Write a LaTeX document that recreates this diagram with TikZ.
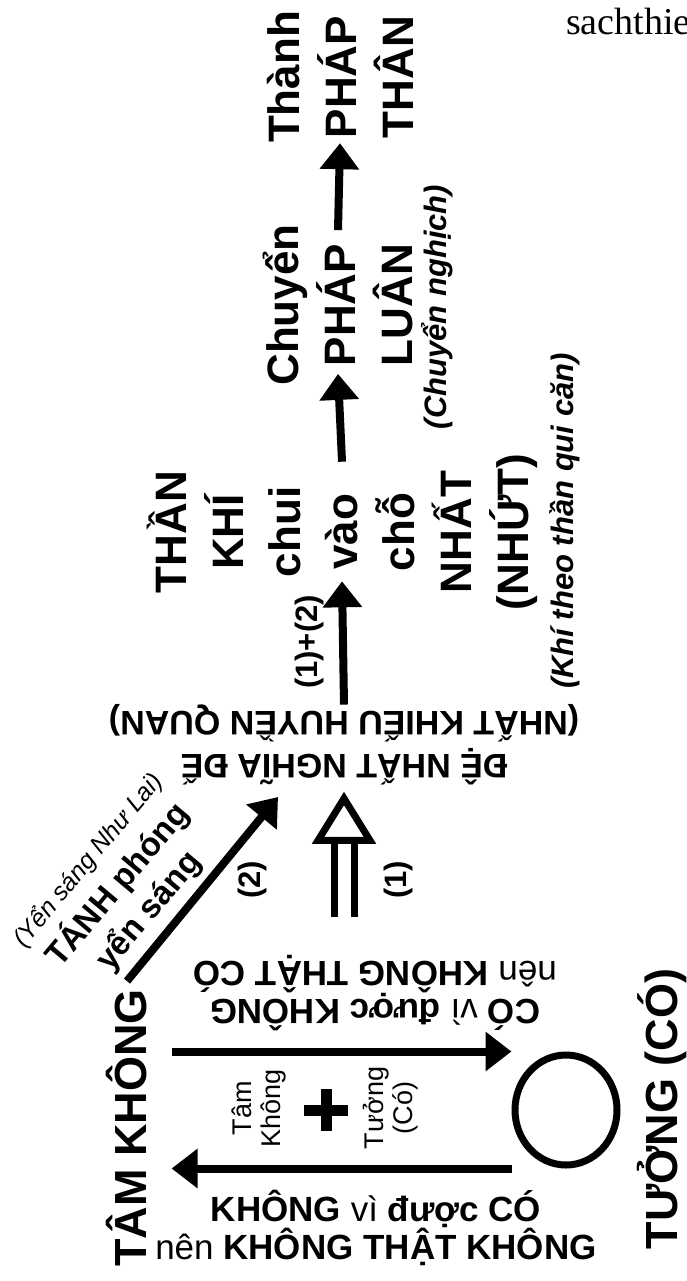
\documentclass[tikz,border=0pt]{standalone}
\usepackage{fontspec}
\setmainfont{Liberation Sans}
\newfontfamily\seriffont{Liberation Serif}
\usetikzlibrary{positioning, arrows.meta, calc, shapes.geometric}

\tikzset{
  bigword/.style={font=\bfseries\fontsize{44}{57}\selectfont, align=center, inner sep=0pt},
  midword/.style={font=\fontsize{35}{38}\selectfont, align=center, inner sep=0pt},
  noteword/.style={font=\bfseries\itshape\fontsize{31}{34}\selectfont, inner sep=0pt},
  numword/.style={font=\bfseries\fontsize{31}{34}\selectfont, inner sep=0pt},
  smallword/.style={font=\fontsize{27}{29}\selectfont, align=center, inner sep=0pt},
  arr/.style={line width=8pt, -{Triangle[length=26pt, width=38pt]}},
  dblshaft/.style={line width=7pt, double=white, double distance=13pt},
  openhead/.style={line width=7pt, fill=white, line join=miter},
}

\begin{document}
\begin{tikzpicture}[x=1pt, y=-1pt]
    \useasboundingbox (0,0) rectangle (686,1281);
    \clip (0,0) rectangle (686,1281);

    \node[font=\seriffont\fontsize{38}{40}\selectfont, anchor=base west, inner sep=0pt] (site) at (566,35) {sachthie};

    % upper column
    \node[bigword, rotate=90] (thanh) at (340,77) {Thành\\PHÁP\\THÂN};
    \node[bigword, rotate=90] (chuyen) at (338,305) {Chuyển\\PHÁP\\LUÂN};
    \node[noteword, rotate=90] (chuyennote) at (437,307) {(Chuyển nghịch)};
    \node[bigword, rotate=90] (than) at (342,532) {THẦN\\KHÍ\\chui\\vào\\chỗ\\NHẤT\\(NHỨT)};
    \node[noteword, rotate=90] (thannote) at (565,521) {(Khí theo thần qui căn)};
    \node[numword, rotate=90] (both) at (309,642) {(1)+(2)};

    \node[bigword, font=\bfseries\fontsize{34}{43}\selectfont, rotate=180] (de) at (344,745)
      {ĐỆ NHẤT NGHĨA ĐẾ\\(NHẤT KHIẾU HUYỀN QUAN)};

    \node[numword, rotate=90] (one) at (398,880) {(1)};
    \node[numword, rotate=90] (two) at (252,880) {(2)};

    \node[align=center, inner sep=0pt, rotate=50, font=\bfseries\fontsize{33}{40}\selectfont] (tanh) at (120,887)
      {{\itshape\mdseries\fontsize{25}{30}\selectfont (Yển sáng Như Lai)}\\[1pt]TÁNH phóng\\yển sáng};

    % lower part
    \node[bigword, font=\bfseries\fontsize{45}{50}\selectfont, rotate=90] (tam) at (127,1128) {TÂM KHÔNG};
    \node[bigword, font=\bfseries\fontsize{45}{50}\selectfont, rotate=90] (tuong) at (662,1109) {TƯỞNG (CÓ)};
    \node[draw, ellipse, line width=7pt, minimum width=102pt, minimum height=110pt] (circ) at (566,1110) {};

    \node[smallword, rotate=90] (tamk) at (259,1108) {Tâm\\Không};
    \node[smallword, rotate=90] (tuongc) at (391,1108) {Tưởng\\(Có)};
    \coordinate (plus) at (326,1110);
    \draw[line width=11pt] ($(plus)+(0,-21)$) -- ($(plus)+(0,21)$);
    \draw[line width=11pt] ($(plus)+(-22,0)$) -- ($(plus)+(22,0)$);

    \node[midword, rotate=180] (co) at (375,993)
      {\textbf{CÓ} vì \textbf{được KHÔNG}\\nên \textbf{KHÔNG THẬT CÓ}};
    \node[midword] (khong) at (376,1228)
      {\textbf{KHÔNG} vì \textbf{được CÓ}\\nên \textbf{KHÔNG THẬT KHÔNG}};

    % arrows
    \draw[arr] ([yshift=-6pt]chuyen.east) -- (thanh.west);
    \draw[arr] ([yshift=-8pt]than.east) -- ([yshift=12pt]chuyen.west);
    \draw[arr] (de.south) -- ([yshift=29pt]than.west);

    \coordinate (onebase) at ([yshift=-55pt]de.north);
    \draw[dblshaft] ($(onebase |- co.south)+(0,-38)$) -- (onebase);
    \draw[openhead] (onebase) ++(-26,0) -- ++(26,-42) -- ++(26,42) -- cycle;

    \coordinate (twotip) at (278,797);
    \draw[arr] ([yshift=8pt]tam.east) -- (twotip);

    \draw[arr, shorten <=24pt] (tam.south |- circ.north) -- (circ.west |- circ.north);
    \draw[arr, shorten >=24pt] (circ.west |- circ.south) -- (tam.south |- circ.south);
\end{tikzpicture}
\end{document}
